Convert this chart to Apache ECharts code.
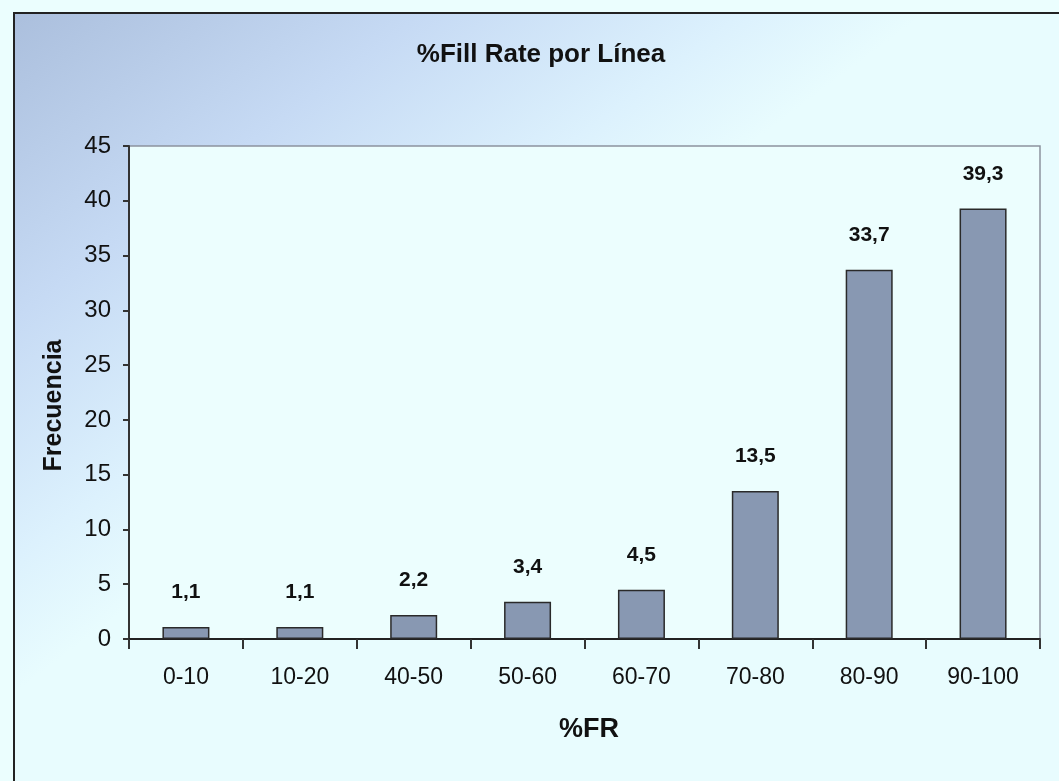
<!DOCTYPE html>
<html>
<head>
<meta charset="utf-8">
<script src="https://cdn.jsdelivr.net/npm/echarts@6/dist/echarts.min.js"></script>
<style>
html,body{margin:0;padding:0;background:#ebfefe;}
#c{width:1059px;height:781px;}
</style>
</head>
<body>
<div id="c"></div>
<script>
const categories = ['0-10','10-20','40-50','50-60','60-70','70-80','80-90','90-100'];
const values = [1.1, 1.1, 2.2, 3.4, 4.5, 13.5, 33.7, 39.3];
const yTicks = [0, 5, 10, 15, 20, 25, 30, 35, 40, 45];

const chart = echarts.init(document.getElementById('c'));
const font = '"Liberation Sans", Arial, sans-serif';
chart.setOption({
  backgroundColor: '#ebfefe',
  animation: false,
  graphic: [{
    type: 'rect',
    z: -10,
    shape: {x: 14, y: 13, width: 1100, height: 820},
    style: {
      fill: new echarts.graphic.LinearGradient(14, 13, 340, 450, [
        {offset: 0, color: '#abbfdd'},
        {offset: 0.45, color: '#c6daf4'},
        {offset: 0.8, color: '#dcf1fd'},
        {offset: 1, color: '#e8fcfe'}
      ], true),
      stroke: '#222',
      lineWidth: 2
    },
    silent: true
  }],
  title: {
    text: '%Fill Rate por Línea',
    left: 536, top: 37, textAlign: 'center',
    textStyle: {fontFamily: font, fontSize: 26, fontWeight: 'bold', color: '#111'}
  },
  grid: {
    left: 129, top: 146, right: 19, bottom: 142,
    show: true, backgroundColor: '#ecfefe', borderColor: '#8c939e', borderWidth: 1.5
  },
  xAxis: {
    type: 'category',
    data: categories,
    name: '%FR',
    nameLocation: 'middle',
    nameGap: 77,
    nameTextStyle: {fontFamily: font, fontSize: 27, fontWeight: 'bold', color: '#111', padding: [0,0,0,9]},
    axisLine: {lineStyle: {color: '#222', width: 2}},
    axisTick: {show: true, length: 10, lineStyle: {color: '#333', width: 2}},
    axisLabel: {fontFamily: font, fontSize: 23, color: '#111', margin: 27},
    splitLine: {show: false}
  },
  yAxis: {
    type: 'value',
    min: 0, max: 45, interval: 5,
    name: 'Frecuencia',
    nameLocation: 'middle',
    nameGap: 62,
    nameTextStyle: {fontFamily: font, fontSize: 25, fontWeight: 'bold', color: '#111', padding: [0,26,0,0]},
    axisLine: {show: true, lineStyle: {color: '#333', width: 2}},
    axisTick: {show: true, length: 6, lineStyle: {color: '#333', width: 2}},
    axisLabel: {fontFamily: font, fontSize: 24, color: '#111', margin: 18,
      formatter: v => yTicks.includes(v) ? String(v) : ''},
    splitLine: {show: false}
  },
  series: [{
    type: 'bar',
    data: values,
    barWidth: 47,
    itemStyle: {color: '#8898b2', borderColor: '#2a2a2a', borderWidth: 1.5},
    label: {
      show: true, position: 'top', distance: 24,
      fontFamily: font, fontSize: 21, fontWeight: 'bold', color: '#111',
      formatter: p => String(p.value).replace('.', ',')
    }
  }]
});
</script>
</body>
</html>
